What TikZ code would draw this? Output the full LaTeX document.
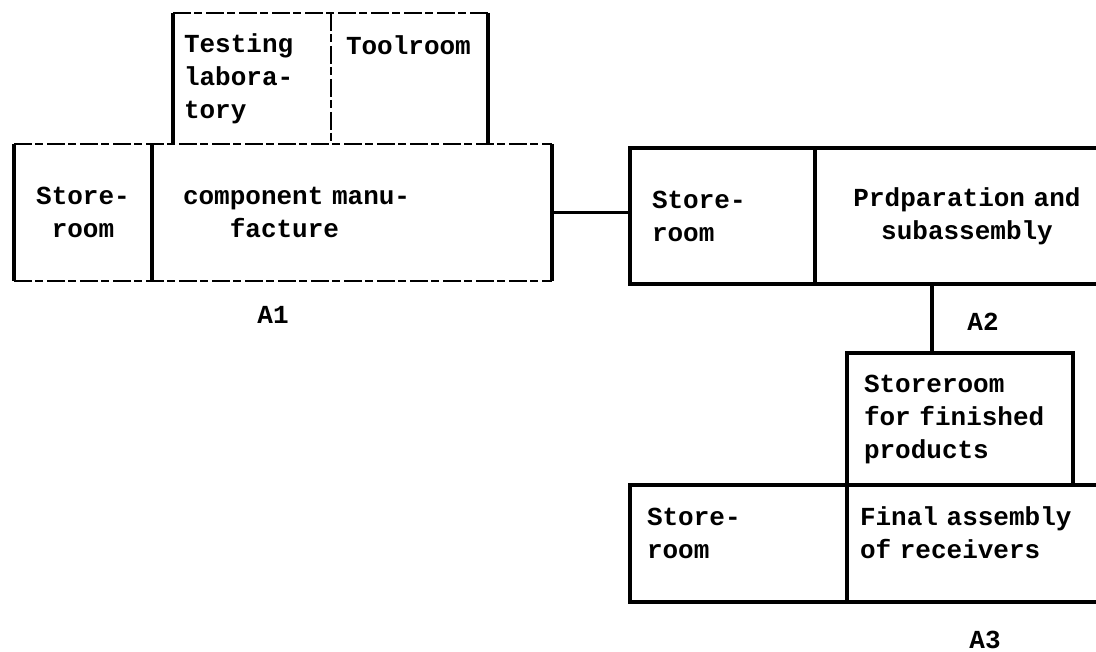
\documentclass[tikz,border=0pt]{standalone}
\usepackage{fontspec}
\setmainfont{Liberation Mono}
\usetikzlibrary{positioning}
\newcommand{\roomfont}{\fontsize{13}{16.5}\selectfont\bfseries\spaceskip=7.8pt\relax}

\begin{document}
\begin{tikzpicture}[x=1pt,y=-1pt,
  every node/.style={font=\roomfont},
  room/.style={rectangle,inner ysep=0pt,outer sep=0pt,align=left},
  wall/.style={line width=1.6pt},
  worn/.style={line width=1.2pt,dash pattern=on 9pt off 1.5pt on 4pt off 2pt},
  wire/.style={line width=1.8pt},
  tag/.style={inner sep=1pt}
]
  \useasboundingbox (0,0) rectangle (548,326);

  % department A1 with its side rooms
  \node[room,anchor=north west,minimum height=65.5pt,inner xsep=5.5pt,text width=68pt]
    (lab) at (86.5,6.5) {Testing\\labora-\\tory};
  \node[room,right=0pt of lab,minimum height=65.5pt,inner xsep=7.5pt,text width=63.5pt]
    (tool) {Toolroom\\\mbox{}\\\mbox{}};
  \node[room,anchor=north west,minimum height=68.5pt,inner xsep=4pt,text width=61pt,align=center]
    (store1) at (7,72) {Store-\\room};
  \node[room,right=0pt of store1,minimum height=68.5pt,inner xsep=15.5pt,text width=169pt]
    (comp) {component manu-\\\phantom{com}facture};

  % department A2
  \node[room,anchor=north west,minimum height=68pt,inner xsep=11pt,text width=70.5pt]
    (store2) at (315,74) {Store-\\room};
  \node[room,right=0pt of store2,minimum height=68pt,inner xsep=16pt,text width=120pt,align=center]
    (prep) {Prdparation and\\subassembly};

  % department A3
  \node[room,anchor=north west,minimum height=58.5pt,inner xsep=8.5pt,text width=91.5pt]
    (store3) at (315,242.5) {Store-\\room\\[-6pt]\mbox{}};
  \node[room,right=0pt of store3,minimum height=58.5pt,inner xsep=6.5pt,text width=121pt]
    (final) {Final assembly\\of receivers\\[-6pt]\mbox{}};
  \node[room,above right=0pt of final.north west,minimum height=66pt,inner xsep=8.5pt,text width=96pt]
    (fin) {Storeroom\\for finished\\products};

  % walls
  \draw[worn] (lab.north west) -- (tool.north east);
  \draw[worn] (tool.north west) -- (tool.south west);
  \draw[wall] (lab.south west) -- (lab.north west);
  \draw[wall] (tool.north east) -- (tool.south east);
  \draw[worn] (store1.north west) -- (comp.north east);
  \draw[worn] (store1.south west) -- (comp.south east);
  \foreach \n in {store1,comp}
    \draw[wall] (\n.north west) -- (\n.south west);
  \draw[wall] (comp.north east) -- (comp.south east);
  \foreach \n in {store2,prep,store3,final,fin}
    \draw[wall] (\n.south west) rectangle (\n.north east);

  % links
  \draw[wire] (comp.east) -- (comp.east -| store2.west);
  \coordinate (drop) at (466,176.5);
  \draw[wire] (drop |- prep.south) -- (drop);

  \node[tag] (a1) at (136.5,157.5) {A1};
  \node[tag] (a2) at (491.5,161) {A2};
  \node[tag] (a3) at (492.5,320) {A3};
\end{tikzpicture}
\end{document}
